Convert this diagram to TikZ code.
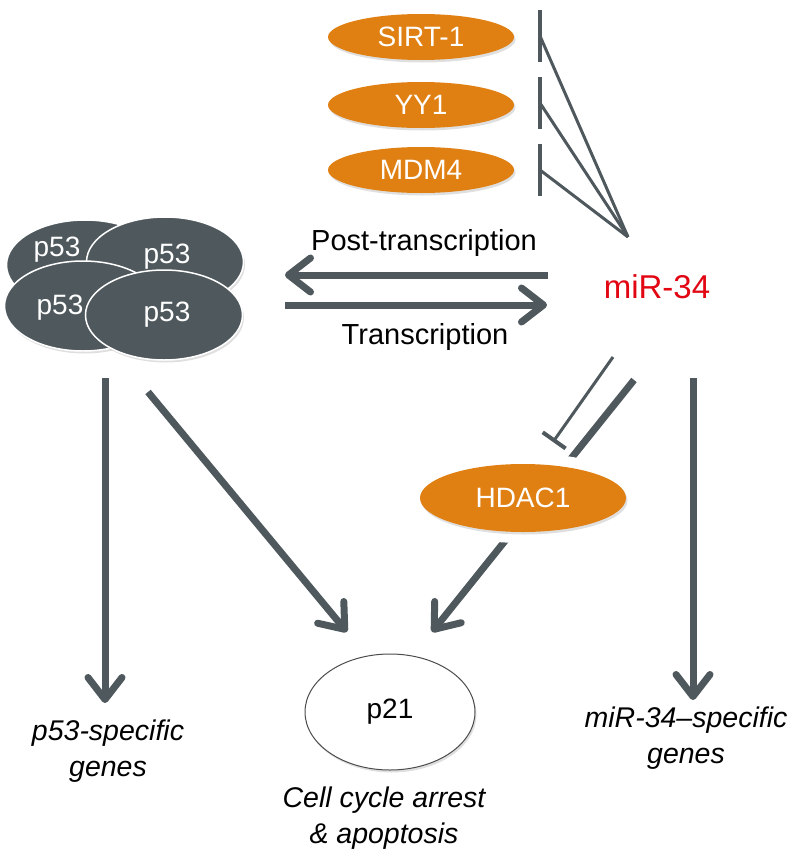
\documentclass[tikz,border=0pt]{standalone}
\usepackage{fontspec}
\setmainfont{Liberation Sans}
\usetikzlibrary{arrows.meta,shapes.geometric,shadows}
\definecolor{OrangeClr}{RGB}{224,128,18}
\definecolor{SlateClr}{RGB}{79,89,93}
\definecolor{RedClr}{RGB}{226,6,19}

\begin{document}
\begin{tikzpicture}[x=1pt,y=-1pt,
  softshadow/.style={drop shadow={opacity=.25,shadow xshift=1.5pt,shadow yshift=-2.5pt}},
  target/.style={ellipse,fill=OrangeClr,minimum width=186pt,minimum height=46pt,inner sep=0pt,
    text=white,font=\fontsize{28}{30}\selectfont,softshadow},
  p53cell/.style={ellipse,fill=SlateClr,draw=white,line width=1.5pt,minimum width=157pt,
    minimum height=90pt,inner sep=0pt,softshadow},
  p53lbl/.style={text=white,font=\fontsize{28}{30}\selectfont,inner sep=0pt},
  lbl/.style={font=\fontsize{29}{34}\selectfont,inner sep=0pt},
  genelbl/.style={align=center,font=\itshape\fontsize{28.5}{36}\selectfont,inner sep=0pt},
  fat/.style={draw=SlateClr,line width=7pt,-{Straight Barb[length=22pt,width=34pt,round]}},
  inhib/.style={draw=SlateClr,line width=3pt},
  barpt/.style={inner sep=0pt,outer sep=0pt,minimum width=0pt,minimum height=52pt},
  barline/.style={draw=SlateClr,line width=4pt}]
\useasboundingbox (0,0) rectangle (794,854);

% targets of miR-34
\node[target] (sirt) at (421,37) {SIRT-1};
\node[target] (yy) at (421,105) {YY1};
\node[target] (mdm) at (421,170) {MDM4};

\node[barpt] (sirtbar) at (540,36) {};
\node[barpt] (yybar) at (540,103) {};
\node[barpt] (mdmbar) at (540,170) {};
\draw[barline] (sirtbar.north) -- (sirtbar.south);
\draw[barline] (yybar.north) -- (yybar.south);
\draw[barline] (mdmbar.north) -- (mdmbar.south);

\node[font=\fontsize{33}{36}\selectfont,text=RedClr,inner sep=0pt] (mir) at (657,287) {miR-34};
\coordinate (mirhub) at (628,237);
\draw[inhib] (mirhub) -- (sirtbar.center);
\draw[inhib] (mirhub) -- (yybar.center);
\draw[inhib] (mirhub) -- (mdmbar.center);

% p53 cluster
\node[p53cell] (tl) at (85,265) {};
\node[p53lbl] (tltxt) at (57,250) {p53};
\node[p53cell] (tr) at (165,262) {};
\node[p53lbl] (trtxt) at (167,257) {p53};
\node[p53cell] (bl) at (83,306) {};
\node[p53lbl] (bltxt) at (60,308) {p53};
\node[p53cell] (br) at (164,315) {};
\node[p53lbl] (brtxt) at (167,315) {p53};

% feedback loop
\coordinate (postS) at (548,275);
\coordinate (postE) at (285,275);
\coordinate (transS) at (285,305);
\coordinate (transE) at (547,305);
\draw[fat] (postS) -- (postE);
\draw[fat] (transS) -- (transE);
\node[lbl] (posttxt) at (424,243) {Post-transcription};
\node[lbl] (transtxt) at (425,337) {Transcription};

% outputs
\node[ellipse,draw=black!70,fill=white,line width=1pt,minimum width=170pt,minimum height=116pt,
  font=\fontsize{28}{30}\selectfont,softshadow] (p21) at (390,712) {p21};
\coordinate (p53dn) at (105,378);
\coordinate (p53tip) at (105,703);
\coordinate (p53dg) at (148,392);
\coordinate (p21L) at (347,632);
\coordinate (mirdn) at (693,378);
\coordinate (mirtip) at (693,700);
\coordinate (thkS) at (634,380);
\coordinate (p21R) at (432,632);
\coordinate (inhS) at (613,357);
\coordinate (inhE) at (553,442);
\draw[fat] (p53dn) -- (p53tip);
\draw[fat] (p53dg) -- (p21L);
\draw[fat] (mirdn) -- (mirtip);
\draw[fat] (thkS) -- (p21R);
\draw[inhib,-{Bar[width=28pt,line width=4pt]}] (inhS) -- (inhE);

\node[target,minimum width=206pt,minimum height=68pt,preaction={draw=white,line width=22pt},softshadow] (hdac) at (523,498) {HDAC1};

\node[genelbl] (p53genes) at (108,751) {p53-specific\\genes};
\node[genelbl] (mirgenes) at (686,738) {miR-34–specific\\genes};
\node[genelbl] (fate) at (384,818) {Cell cycle arrest\\\& apoptosis};
\end{tikzpicture}
\end{document}
